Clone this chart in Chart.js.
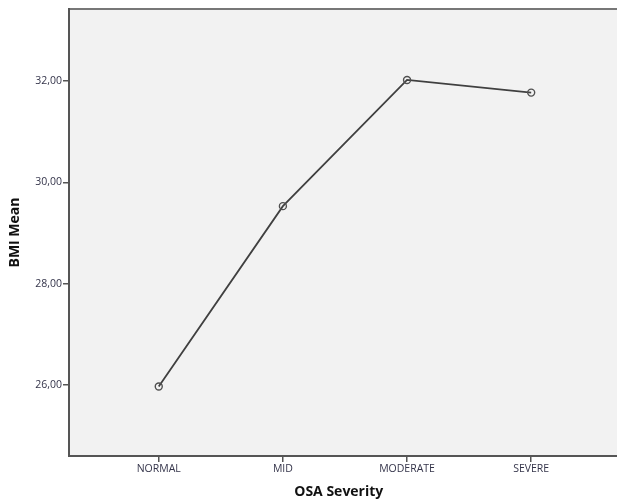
<!DOCTYPE html>
<html>
<head>
<meta charset="utf-8">
<script src="https://cdn.jsdelivr.net/npm/chart.js@4"></script>
<style>
  html, body { margin: 0; padding: 0; background: #fff; overflow: hidden; }
  #wrap { width: 617px; height: 501px; overflow: hidden; }
</style>
</head>
<body>
<div id="wrap"><canvas id="bmiChart" width="640" height="501"></canvas></div>
<script>
const categories = ['NORMAL', 'MID', 'MODERATE', 'SEVERE'];
const bmiMean    = [25.97, 29.53, 32.02, 31.77];
const yTicks     = [26, 28, 30, 32];
const xTitle     = 'OSA Severity';

// plot frame: light grey fill + top border line, plus x title centred on the visible plot
const framePlugin = {
  id: 'frame',
  beforeDraw(chart) {
    const { ctx, chartArea: a } = chart;
    ctx.save();
    ctx.fillStyle = '#f2f2f2';
    ctx.fillRect(a.left, a.top, a.right - a.left, a.bottom - a.top);
    ctx.strokeStyle = '#777';
    ctx.lineWidth = 2;
    ctx.beginPath();
    ctx.moveTo(a.left, a.top);
    ctx.lineTo(a.right, a.top);
    ctx.stroke();
    ctx.restore();
  },
  afterDraw(chart) {
    const { ctx } = chart;
    const xs = chart.scales.x;
    ctx.save();
    ctx.font = 'bold 14px "Open Sans"';
    ctx.fillStyle = '#111';
    ctx.textAlign = 'center';
    ctx.textBaseline = 'middle';
    ctx.fillText(xTitle, xs.getPixelForValue(1.45), xs.bottom - 9);
    ctx.restore();
  }
};

const ctx = document.getElementById('bmiChart').getContext('2d');
new Chart(ctx, {
  type: 'line',
  data: {
    datasets: [{
      data: bmiMean.map((v, i) => ({ x: i, y: v })),
      borderColor: '#404040', borderWidth: 1.8,
      pointRadius: 3.5, pointBorderWidth: 1.4,
      pointBorderColor: '#505050', pointBackgroundColor: 'rgba(0,0,0,0)',
      tension: 0, fill: false
    }]
  },
  options: {
    responsive: false,
    animation: false,
    layout: { padding: { top: 9, right: 0, left: 0, bottom: 0 } },
    plugins: { legend: { display: false }, tooltip: { enabled: false } },
    scales: {
      x: {
        type: 'linear', min: -0.723, max: 3.833,
        afterBuildTicks: s => { s.ticks = categories.map((c, i) => ({ value: i })); },
        afterFit: s => { s.height = 45; },
        ticks: {
          callback: v => categories[v] ?? '',
          color: '#34344a', font: { family: 'Open Sans', size: 10.5 },
          padding: 1, maxRotation: 0, autoSkip: false
        },
        grid: { drawOnChartArea: false, tickLength: 6, color: '#555', lineWidth: 1.5 },
        border: { color: '#555', width: 2 },
        title: { display: false }
      },
      y: {
        min: 24.6, max: 33.42,
        afterBuildTicks: s => { s.ticks = yTicks.map(v => ({ value: v })); },
        afterFit: s => { s.width = 69; },
        ticks: {
          callback: v => v.toFixed(2).replace('.', ','),
          color: '#34344a', font: { family: 'Open Sans', size: 10.5 },
          padding: 1
        },
        grid: { drawOnChartArea: false, tickLength: 6, color: '#555', lineWidth: 1.5 },
        border: { color: '#555', width: 2 },
        title: {
          display: true, text: 'BMI Mean', color: '#111',
          font: { family: 'Open Sans', size: 14, weight: 'bold' },
          padding: { top: 7, bottom: 0 }
        }
      }
    }
  },
  plugins: [framePlugin]
});
</script>
</body>
</html>
